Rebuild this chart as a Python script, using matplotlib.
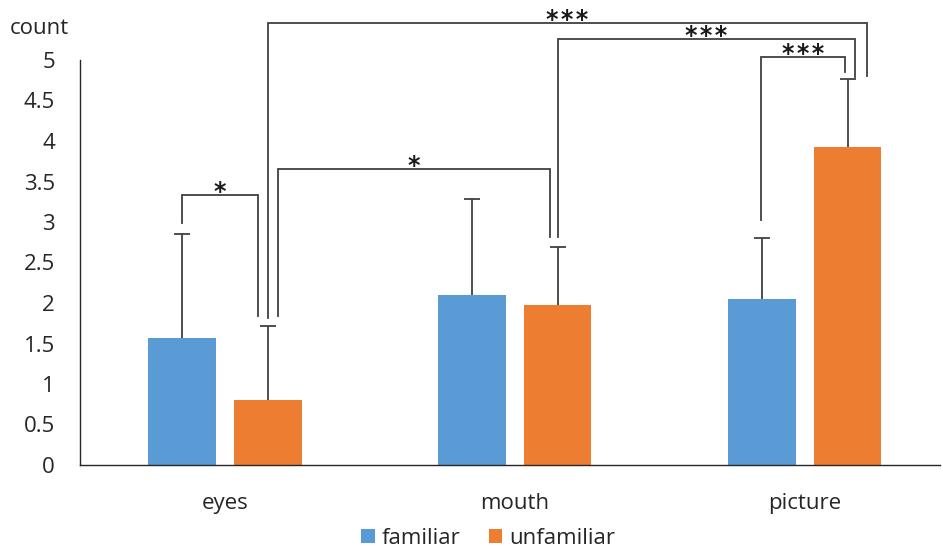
import matplotlib.pyplot as plt
import numpy as np

plt.rcParams['font.family'] = ['Open Sans', 'DejaVu Sans']

# Data
groups = ['eyes', 'mouth', 'picture']
familiar = [1.57, 2.10, 2.05]
familiar_err = [1.28, 1.18, 0.75]
unfamiliar = [0.80, 1.97, 3.92]
unfamiliar_err = [0.91, 0.72, 0.85]
y_ticks = [0, 0.5, 1, 1.5, 2, 2.5, 3, 3.5, 4, 4.5, 5]
y_tick_labels = ['0', '0.5', '1', '1.5', '2', '2.5', '3', '3.5', '4', '4.5', '5']

# Significance brackets: (x_left, x_right, y_top, y_left_bottom, y_right_bottom, label)
brackets = [
    (-0.148, 0.114, 3.33, 2.99, 1.84, '*'),
    (0.183, 1.121, 3.65, 1.84, 2.81, '*'),
    (0.148, 2.214, 5.46, 1.82, 4.80, '***'),
    (1.148, 2.172, 5.26, 2.81, 4.79, '***'),
    (1.848, 2.138, 5.04, 3.02, 4.85, '***'),
]

BLUE = '#5B9BD5'
ORANGE = '#ED7D31'
LINE = '#404040'
TEXT = '#262626'

fig = plt.figure(figsize=(9.43, 5.56), dpi=100)
ax = fig.add_axes([80 / 943, 1 - 465 / 556, 860 / 943, (465 - 60) / 556])

x = np.arange(len(groups))
w = 0.232
off = 0.148

series = [
    (x - off, familiar, familiar_err, BLUE, 'familiar'),
    (x + off, unfamiliar, unfamiliar_err, ORANGE, 'unfamiliar'),
]
for pos, vals, errs, col, lab in series:
    vals = np.array(vals)
    tops = vals + np.array(errs)
    ax.bar(pos, vals, w, color=col, label=lab)
    # upper-only error bars with a cap at the top
    ax.vlines(pos, vals, tops, color=LINE, lw=1.3)
    ax.plot(pos, tops, ls='none', marker='_', markersize=11,
            markeredgewidth=1.3, color=LINE)

for xl, xr, yt, ybl, ybr, lab in brackets:
    ax.plot([xl, xl, xr, xr], [ybl, yt, yt, ybr], color=LINE, lw=1.3,
            clip_on=False, solid_joinstyle='miter')
    ax.text((xl + xr) / 2, yt - 0.05, '\u200a'.join(lab), ha='center',
            va='baseline', fontsize=17, family='DejaVu Sans', weight='bold',
            clip_on=False, color='#1a1a1a')

ax.set_xlim(-0.5, 2.466)
ax.set_ylim(0, 5)
ax.set_yticks(y_ticks)
ax.set_yticklabels(y_tick_labels)
ax.set_xticks(x)
ax.set_xticklabels(groups)
ax.tick_params(axis='both', length=0, labelsize=16, colors=TEXT)
ax.tick_params(axis='y', pad=18)
ax.tick_params(axis='x', pad=20)
for s in ['top', 'right']:
    ax.spines[s].set_visible(False)
for s in ['left', 'bottom']:
    ax.spines[s].set_color(TEXT)
    ax.spines[s].set_linewidth(1.0)

fig.text(10 / 943, 1 - 28 / 556, 'count', ha='left', va='center',
         fontsize=16, color=TEXT)

fig.legend(loc='center', bbox_to_anchor=(488 / 943, 1 - 538 / 556), ncol=2,
           frameon=False, fontsize=16, handlelength=0.6, handleheight=0.6,
           handletextpad=0.3, columnspacing=1.3, labelcolor=TEXT)

fig.savefig('out.png', dpi=100)
